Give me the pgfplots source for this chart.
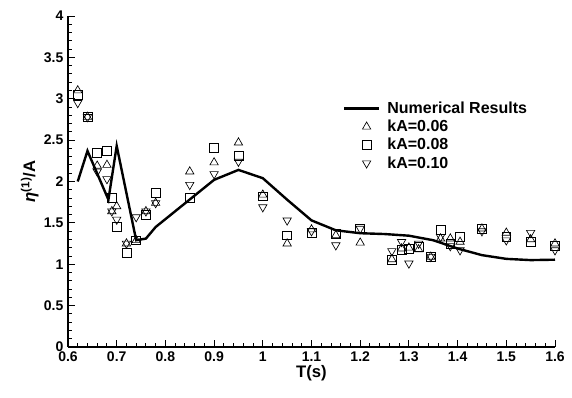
\documentclass[border=0pt]{standalone}
\usepackage{fontspec}
\setmainfont{Liberation Sans}
\usepackage{pgfplots}
\pgfplotsset{compat=1.18}
\usetikzlibrary{calc}
\begin{document}
\begin{tikzpicture}
\begin{axis}[
  scale only axis,
  width=365.25pt, height=248.25pt,
  xmin=0.6, xmax=1.6, ymin=0, ymax=4,
  axis lines=left, axis line style={-, line width=0.8pt},
  xtick={0.6,0.7,...,1.6}, ytick={0,0.5,...,4},
  minor x tick num=4, minor y tick num=4,
  tick align=inside, tick pos=left,
  major tick length=5pt, minor tick length=3pt,
  tick style={line width=0.7pt, black},
  /pgf/number format/assume math mode=true,
  ticklabel style={font=\bfseries\fontsize{10.5}{12}\selectfont},
  xlabel={\bfseries T(s)}, ylabel={\bfseries\itshape η\upshape\textsuperscript{(1)}/A},
  label style={font=\bfseries\fontsize{12.5}{14}\selectfont},
  xlabel style={yshift=4pt}, ylabel style={yshift=-3pt},
  legend style={draw=none, fill=none, at={(0.556,0.757)}, anchor=north west,
    font=\bfseries\fontsize{12}{14}\selectfont, row sep=0pt,
    nodes={inner ysep=1.75pt, inner xsep=5.3pt}},
  legend cell align=left,
  legend image code/.code={},
  clip=false,
]
\addplot[black, line width=1.8pt, legend image code/.code={\draw[black,line width=1.8pt] (-0.3cm,0) -- (0.62cm,0);}] coordinates {
(0.62,2.00) (0.64,2.37) (0.683,1.78) (0.70,2.43) (0.74,1.29) (0.76,1.31) (0.78,1.45)
(0.90,2.02) (0.95,2.14) (1.00,2.04) (1.05,1.78) (1.10,1.53) (1.15,1.41) (1.20,1.375)
(1.25,1.365) (1.30,1.345) (1.35,1.29) (1.40,1.19) (1.45,1.11) (1.50,1.065) (1.55,1.05) (1.60,1.055)};
\addlegendentry{Numerical Results}
\addplot[only marks, mark=triangle, mark size=3.6pt, mark options={black, line width=0.5pt, fill=none},
  legend image code/.code={\draw[black,line width=0.5pt] plot[mark=triangle, mark size=3.6pt] coordinates {(0.29cm,0)};}] coordinates {
(0.62,3.10) (0.64,2.78) (0.66,2.19) (0.68,2.20) (0.69,1.64) (0.70,1.70) (0.72,1.25) (0.74,1.29)
(0.76,1.64) (0.78,1.74) (0.85,2.12) (0.90,2.23) (0.95,2.47) (1.00,1.84) (1.05,1.25) (1.10,1.42)
(1.15,1.35) (1.20,1.26) (1.265,1.06) (1.285,1.19) (1.30,1.20) (1.32,1.18) (1.345,1.09) (1.365,1.31)
(1.385,1.31) (1.405,1.27) (1.45,1.43) (1.50,1.38) (1.55,1.30) (1.60,1.25)};
\addlegendentry{kA=0.06}
\addplot[only marks, mark=square, mark size=3.3pt, mark options={black, line width=0.5pt, fill=none},
  legend image code/.code={\draw[black,line width=0.5pt] plot[mark=square, mark size=3.3pt] coordinates {(0.29cm,0)};}] coordinates {
(0.62,3.05) (0.64,2.78) (0.66,2.35) (0.68,2.37) (0.69,1.80) (0.70,1.45) (0.72,1.14) (0.74,1.29)
(0.76,1.60) (0.78,1.86) (0.85,1.80) (0.90,2.41) (0.95,2.31) (1.00,1.82) (1.05,1.35) (1.10,1.38)
(1.15,1.37) (1.20,1.43) (1.265,1.05) (1.285,1.17) (1.30,1.19) (1.32,1.21) (1.345,1.09) (1.365,1.42)
(1.385,1.25) (1.405,1.33) (1.45,1.43) (1.50,1.33) (1.55,1.27) (1.60,1.22)};
\addlegendentry{kA=0.08}
\addplot[only marks, mark=triangle, mark size=3.6pt, mark options={black, line width=0.5pt, fill=none, rotate=180},
  legend image code/.code={\draw[black,line width=0.5pt] plot[mark=triangle, mark size=3.6pt, mark options={rotate=180}] coordinates {(0.29cm,0)};}] coordinates {
(0.62,2.95) (0.64,2.78) (0.66,2.12) (0.68,2.03) (0.69,1.64) (0.70,1.54) (0.72,1.25) (0.74,1.57)
(0.76,1.64) (0.78,1.74) (0.85,1.96) (0.90,2.09) (0.95,2.24) (1.00,1.69) (1.05,1.53) (1.10,1.40)
(1.15,1.23) (1.20,1.43) (1.265,1.16) (1.285,1.27) (1.30,1.01) (1.32,1.25) (1.345,1.09) (1.365,1.33)
(1.385,1.22) (1.405,1.17) (1.45,1.40) (1.50,1.29) (1.55,1.38) (1.60,1.17)};
\addlegendentry{kA=0.10}
\end{axis}
\pgfresetboundingbox
\path[use as bounding box] ($(current axis.south west)+(-51pt,-38.25pt)$) rectangle ($(current axis.north east)+(12.75pt,12pt)$);
\end{tikzpicture}
\end{document}
